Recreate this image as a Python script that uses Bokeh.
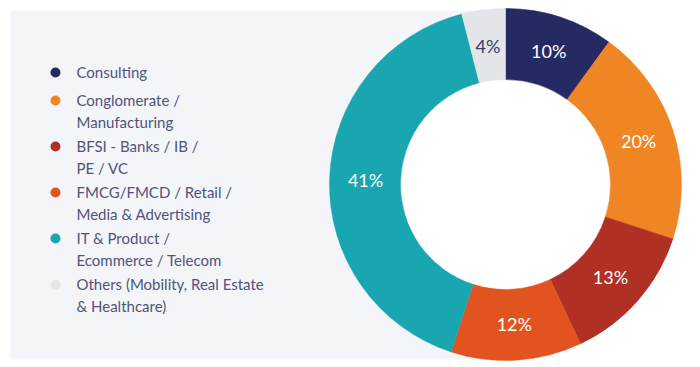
import math
from bokeh.plotting import figure
from bokeh.models import Range1d, ColumnDataSource
from bokeh.core.properties import value
from bokeh.embed import file_html
from bokeh.resources import INLINE

categories = [
    "Consulting",
    "Conglomerate /\nManufacturing",
    "BFSI - Banks / IB /\nPE / VC",
    "FMCG/FMCD / Retail /\nMedia & Advertising",
    "IT & Product /\nEcommerce / Telecom",
    "Others (Mobility, Real Estate\n& Healthcare)",
]
shares = [10, 20, 13, 12, 41, 4]
colors = ["#262a63", "#ef8523", "#b03026", "#e2541f", "#1aa6b0", "#e4e5e8"]
label_colors = ["white", "white", "white", "white", "white", "#3a3d6b"]

W, H = 700, 367
p = figure(width=W, height=H, output_backend="svg", toolbar_location=None,
           x_range=Range1d(0, W), y_range=Range1d(0, H),
           min_border=0)
p.axis.visible = False
p.grid.visible = False
p.outline_line_color = None
p.background_fill_color = "white"
p.border_fill_color = "white"

# panel background
p.quad(left=[10], right=[505], bottom=[H - 359], top=[H - 10],
       fill_color="#f4f5f9", line_color=None)

cx, cy = 505, H - 184
r_in, r_out = 105, 176
total = sum(shares)
starts, ends, mids = [], [], []
cum = 0
for s in shares:
    a0 = math.pi / 2 - 2 * math.pi * cum / total
    cum += s
    a1 = math.pi / 2 - 2 * math.pi * cum / total
    starts.append(a0)
    ends.append(a1)
    mids.append((a0 + a1) / 2)

# white hole
p.circle(x=[cx], y=[cy], radius=r_in + 1, fill_color="white", line_color=None)

src = ColumnDataSource(dict(start=starts, end=ends, color=colors))
p.annular_wedge(x=cx, y=cy, inner_radius=r_in, outer_radius=r_out,
                start_angle="start", end_angle="end", direction="clock",
                fill_color="color", line_color="color", line_width=0.5, source=src)

r_lab = 140
lab = ColumnDataSource(dict(
    x=[cx + r_lab * math.cos(m) for m in mids],
    y=[cy + r_lab * math.sin(m) for m in mids],
    t=[f"{s}%" for s in shares],
    c=label_colors,
))
p.text(x="x", y="y", text="t", text_color="c", source=lab,
       text_font=value("Lato"), text_font_size="18px",
       text_align="center", text_baseline="middle")

# legend
line_h = 18
gap = 10
y = 72
dot_y = []
for c in categories:
    n = c.count("\n") + 1
    dot_y.append(H - y)
    y += n * line_h + gap

p.scatter(x=[55] * len(categories), y=dot_y, size=10, fill_color=colors,
          line_color=None)
for c, ty in zip(categories, dot_y):
    p.text(x=[76], y=[ty + 9.5], text=[c], text_color="#50547a",
           text_font=value("Lato"), text_font_size="15px",
           text_align="left", text_baseline="top", text_line_height=1.2)

open("out.html", "w").write(file_html(p, INLINE))
